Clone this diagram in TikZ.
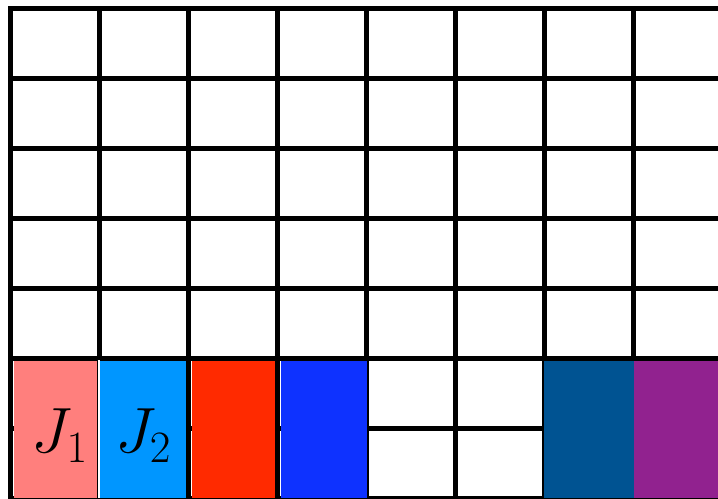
\RequirePackage{fix-cm}
\documentclass[tikz,border=0pt]{standalone}
\usepackage{amsmath,amssymb}
\usepackage{tikz}
\usetikzlibrary{positioning, calc}

\definecolor{jobsalmon}{RGB}{255,127,125}
\definecolor{jobsky}{RGB}{0,150,255}
\definecolor{jobred}{RGB}{255,42,0}
\definecolor{jobblue}{RGB}{14,50,255}
\definecolor{jobnavy}{RGB}{0,83,146}
\definecolor{jobpurple}{RGB}{145,34,143}

\begin{document}
\begin{tikzpicture}[
        x=44.5pt, y=35pt,
        every node/.style={font=\fontsize{32}{38}\selectfont},
        gridline/.style={black, line width=2.5pt, line cap=rect},
        job/.style={rectangle, draw=none, inner sep=0pt, anchor=south west, minimum height=68.74pt},
        narrow/.style={job, minimum width=41.8pt},
        wide/.style={job, minimum width=43pt}
    ]
    \useasboundingbox (-0.118, 0.007) rectangle (7.949, 7.121);

    % Grid of slots
    \foreach \y in {0, 1, ..., 7} {
        \draw[gridline] (0, \y) -- (8.5, \y);
    }
    \foreach \x in {0, 1, ..., 7} {
        \draw[gridline] (\x, 0) -- (\x, 7);
    }

    % Jobs in the two bottom rows
    \node[narrow, fill=jobsalmon] (j1) at (0.03, 0) {};
    \node[wide, fill=jobsky] (j2) at (1.005, 0) {};
    \node[narrow, fill=jobred] (j3) at (2.03, 0) {};
    \node[wide, fill=jobblue] (j4) at (3.03, 0) {};
    \node[job, fill=jobnavy, minimum width=45pt] (j5) at (5.985, 0) {};
    \node[job, fill=jobpurple, minimum width=53.4pt] (j6) at (7.0, 0) {};
    \fill[white] (j1.south east) rectangle (j2.north west);

    % Labels
    \node (l1) at (0.556, 0.9) {$J_1$};
    \node (l2) at (1.493, 0.9) {$J_2$};

\end{tikzpicture}
\end{document}
